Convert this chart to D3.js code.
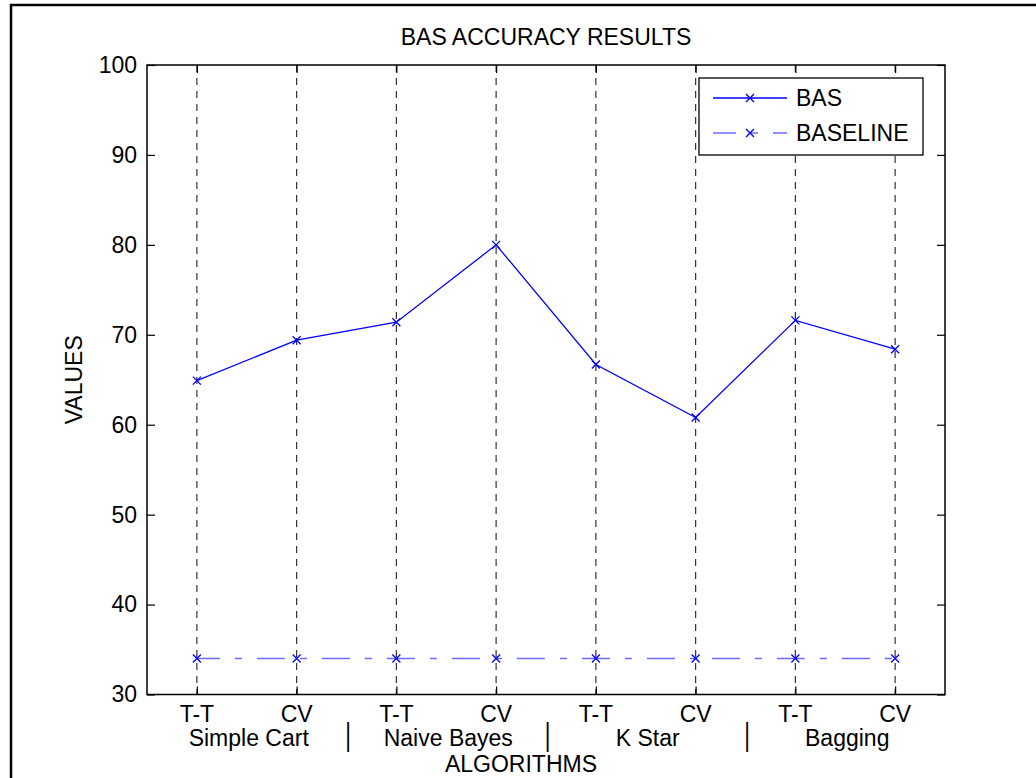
<!DOCTYPE html>
<html>
<head>
<meta charset="utf-8">
<script src="https://cdn.jsdelivr.net/npm/d3@7"></script>
<style>
  body { margin: 0; background: #fff; }
  text { font-family: "Liberation Sans", Arial, Helvetica, sans-serif; fill: #000; }
</style>
</head>
<body>
<div id="chart"></div>
<script>
const tests = ["T-T", "CV", "T-T", "CV", "T-T", "CV", "T-T", "CV"];
const algorithms = ["Simple Cart", "Naive Bayes", "K Star", "Bagging"];
const basValues = [64.9, 69.4, 71.4, 80.0, 66.7, 60.8, 71.6, 68.4];
const baselineValues = [34, 34, 34, 34, 34, 34, 34, 34];
const yTicks = [30, 40, 50, 60, 70, 80, 90, 100];

const width = 1036;
const height = 778;
const plot = { left: 147, right: 945, top: 65, bottom: 694.5 };
const fontSize = 23;

const svg = d3.select("#chart")
  .append("svg")
  .attr("width", width)
  .attr("height", height);

// outer figure frame
svg.append("rect")
  .attr("x", 11).attr("y", 5)
  .attr("width", 1100).attr("height", 900)
  .attr("fill", "none")
  .attr("stroke", "#000")
  .attr("stroke-width", 2.5);

const x = d3.scaleLinear().domain([0.5, 8.5]).range([plot.left, plot.right]);
const y = d3.scaleLinear().domain([30, 100]).range([plot.bottom, plot.top]);
const idx = tests.map((d, i) => i + 1);

// vertical dashed grid
svg.append("g")
  .selectAll("line")
  .data(idx)
  .enter()
  .append("line")
  .attr("x1", d => x(d)).attr("x2", d => x(d))
  .attr("y1", plot.top).attr("y2", plot.bottom)
  .attr("stroke", "#333")
  .attr("stroke-width", 1.2)
  .attr("stroke-dasharray", "7,6");

// axes box
svg.append("rect")
  .attr("x", plot.left).attr("y", plot.top)
  .attr("width", plot.right - plot.left)
  .attr("height", plot.bottom - plot.top)
  .attr("fill", "none")
  .attr("stroke", "#000")
  .attr("stroke-width", 1.5);

// y ticks (left and right, inward)
const yAxisL = d3.axisLeft(y).tickValues(yTicks).tickSize(-8).tickPadding(10);
const gL = svg.append("g").attr("transform", `translate(${plot.left},0)`).call(yAxisL);
gL.select(".domain").remove();
gL.selectAll("text").attr("font-size", fontSize).attr("font-family", null);

const yAxisR = d3.axisRight(y).tickValues(yTicks).tickSize(-8).tickFormat("");
const gR = svg.append("g").attr("transform", `translate(${plot.right},0)`).call(yAxisR);
gR.select(".domain").remove();

// x ticks (bottom and top, inward)
const xAxisB = d3.axisBottom(x).tickValues(idx).tickSize(-8).tickFormat("");
const gB = svg.append("g").attr("transform", `translate(0,${plot.bottom})`).call(xAxisB);
gB.select(".domain").remove();
const xAxisT = d3.axisTop(x).tickValues(idx).tickSize(-8).tickFormat("");
const gT = svg.append("g").attr("transform", `translate(0,${plot.top})`).call(xAxisT);
gT.select(".domain").remove();
svg.selectAll(".tick line").attr("stroke", "#000").attr("stroke-width", 1.2);

// x tick labels
svg.append("g")
  .selectAll("text")
  .data(tests)
  .enter()
  .append("text")
  .attr("x", (d, i) => x(i + 1))
  .attr("y", 722)
  .attr("text-anchor", "middle")
  .attr("font-size", fontSize)
  .text(d => d);

// algorithm group labels
svg.append("g")
  .selectAll("text")
  .data(algorithms)
  .enter()
  .append("text")
  .attr("x", (d, i) => x(2 * i + 1.5) + 2)
  .attr("y", 746)
  .attr("text-anchor", "middle")
  .attr("font-size", fontSize)
  .text(d => d);

// separators
svg.append("g")
  .selectAll("text")
  .data([2.5, 4.5, 6.5])
  .enter()
  .append("text")
  .attr("transform", d => `translate(${x(d) + 1.5},745) scale(1,1.4)`)
  .attr("text-anchor", "middle")
  .attr("font-size", 22)
  .text("|");

// axis titles
svg.append("text")
  .attr("x", 521).attr("y", 772)
  .attr("text-anchor", "middle")
  .attr("font-size", fontSize)
  .text("ALGORITHMS");

svg.append("text")
  .attr("transform", `translate(82,${(plot.top + plot.bottom) / 2}) rotate(-90)`)
  .attr("text-anchor", "middle")
  .attr("font-size", fontSize)
  .text("VALUES");

svg.append("text")
  .attr("x", (plot.left + plot.right) / 2).attr("y", 45)
  .attr("text-anchor", "middle")
  .attr("font-size", fontSize)
  .text("BAS ACCURACY RESULTS");

// series
const line = d3.line().x((d, i) => x(i + 1)).y(d => y(d));

function xMarker(g, px, py, color) {
  g.append("path")
    .attr("d", `M${px - 4},${py - 4}L${px + 4},${py + 4}M${px - 4},${py + 4}L${px + 4},${py - 4}`)
    .attr("stroke", color)
    .attr("stroke-width", 1.3)
    .attr("fill", "none");
}

svg.append("path")
  .datum(baselineValues)
  .attr("d", line)
  .attr("fill", "none")
  .attr("stroke", "#6b6bff")
  .attr("stroke-width", 1.5)
  .attr("stroke-dasharray", "28,15,7,15")
  .attr("stroke-dashoffset", 5);

svg.append("path")
  .datum(basValues)
  .attr("d", line)
  .attr("fill", "none")
  .attr("stroke", "#0000ff")
  .attr("stroke-width", 1.3);

const markers = svg.append("g");
basValues.forEach((v, i) => xMarker(markers, x(i + 1), y(v), "#0000ff"));
baselineValues.forEach((v, i) => xMarker(markers, x(i + 1), y(v), "#0000ff"));

// legend
const legend = svg.append("g");
legend.append("rect")
  .attr("x", 699).attr("y", 78)
  .attr("width", 224).attr("height", 77)
  .attr("fill", "#fff")
  .attr("stroke", "#000")
  .attr("stroke-width", 1.3);

const legendItems = [
  { name: "BAS", dash: null, color: "#0000ff", row: 98 },
  { name: "BASELINE", dash: "28,15,7,15", color: "#6b6bff", row: 133 }
];
legendItems.forEach(item => {
  const l = legend.append("line")
    .attr("x1", 713).attr("x2", 787)
    .attr("y1", item.row).attr("y2", item.row)
    .attr("stroke", item.color)
    .attr("stroke-width", 1.3);
  if (item.dash) l.attr("stroke-dasharray", item.dash).attr("stroke-dashoffset", 5);
  xMarker(legend, 750, item.row, "#0000ff");
  legend.append("text")
    .attr("x", 796).attr("y", item.row + 8)
    .attr("font-size", fontSize)
    .text(item.name);
});
</script>
</body>
</html>
